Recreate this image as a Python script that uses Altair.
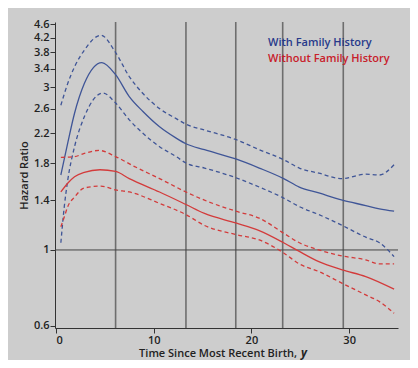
import altair as alt
import pandas as pd

# ---- data ----
bw_x = [0.5, 1.2, 1.9, 2.9, 4.7, 6.1, 7.5, 8.9, 10.6, 12.3, 13.3, 15.2, 18.4, 20.8, 23.3, 24.9, 26.9, 29.3, 31.7, 33.1, 34.6]
bw_hr = [1.66, 2.06, 2.52, 3.08, 3.55, 3.27, 2.82, 2.55, 2.30, 2.13, 2.05, 1.97, 1.85, 1.74, 1.62, 1.53, 1.47, 1.40, 1.35, 1.32, 1.30]

bu_x = [0.5, 1.2, 1.9, 2.9, 4.6, 6.1, 7.5, 8.9, 10.6, 12.3, 13.3, 15.2, 18.4, 20.8, 23.3, 24.9, 26.9, 29.3, 31.7, 33.1, 34.6]
bu_hr = [2.66, 3.08, 3.45, 3.86, 4.27, 3.80, 3.23, 2.88, 2.60, 2.43, 2.34, 2.25, 2.11, 1.97, 1.84, 1.74, 1.68, 1.62, 1.67, 1.66, 1.78]

bl_x = [0.5, 0.85, 1.2, 1.9, 2.9, 4.8, 6.1, 7.5, 8.9, 10.6, 12.3, 13.3, 15.2, 18.4, 20.8, 23.3, 24.9, 26.9, 29.3, 31.7, 33.1, 34.6]
bl_hr = [1.05, 1.34, 1.60, 2.01, 2.46, 2.89, 2.70, 2.41, 2.20, 2.01, 1.88, 1.80, 1.74, 1.63, 1.53, 1.42, 1.34, 1.27, 1.18, 1.09, 1.05, 0.956]

rw_x = [0.5, 1.2, 1.9, 2.9, 4.5, 6.1, 7.5, 10.6, 13.3, 15.2, 18.4, 20.8, 23.3, 24.9, 26.9, 29.3, 31.7, 34.6]
rw_hr = [1.48, 1.57, 1.64, 1.69, 1.72, 1.70, 1.62, 1.48, 1.36, 1.28, 1.20, 1.14, 1.05, 0.99, 0.924, 0.874, 0.835, 0.767]

ru_x = [0.5, 1.9, 2.9, 4.4, 6.1, 8.0, 10.6, 13.3, 15.2, 18.4, 20.8, 23.3, 24.9, 26.9, 29.3, 31.7, 33.1, 34.6]
ru_hr = [1.87, 1.88, 1.92, 1.96, 1.88, 1.76, 1.62, 1.48, 1.40, 1.30, 1.24, 1.12, 1.05, 1.00, 0.96, 0.935, 0.91, 0.91]

rl_x = [0.5, 0.85, 1.2, 1.9, 2.9, 4.6, 6.1, 7.5, 10.6, 13.3, 15.2, 18.4, 20.8, 23.3, 24.9, 26.9, 29.3, 31.7, 33.1, 34.6]
rl_hr = [1.17, 1.25, 1.34, 1.43, 1.52, 1.54, 1.50, 1.48, 1.37, 1.27, 1.18, 1.11, 1.07, 0.98, 0.91, 0.864, 0.798, 0.738, 0.705, 0.652]

knots = [6.1, 13.3, 18.4, 23.2, 29.4]
ref_line = [1.0]
y_ticks = [0.6, 1, 1.4, 1.8, 2.2, 2.6, 3, 3.4, 3.8, 4.2, 4.6]
x_ticks = [0, 10, 20, 30]
legend_labels = ["With Family History", "Without Family History"]
x_title = "Time Since Most Recent Birth,"
x_title_var = "y"
y_title = "Hazard Ratio"

BLUE = "#3f5597"
RED = "#d33b3b"
FONT = "Open Sans"


def frame(xs, ys, key):
    return pd.DataFrame({"t": xs, "hr": ys, "key": key})


df = pd.concat([
    frame(bw_x, bw_hr, "bw"), frame(bu_x, bu_hr, "bu"), frame(bl_x, bl_hr, "bl"),
    frame(rw_x, rw_hr, "rw"), frame(ru_x, ru_hr, "ru"), frame(rl_x, rl_hr, "rl"),
])

xs = alt.Scale(domain=[-0.1, 35], nice=False, zero=False)
ys = alt.Scale(type="log", domain=[0.59, 4.67], nice=False)

xaxis = alt.Axis(values=x_ticks, title=None, grid=False, format="d")
yaxis = alt.Axis(values=y_ticks, title=y_title, grid=False, format="~g")
xenc = alt.X("t:Q", scale=xs, axis=xaxis)
yenc = alt.Y("hr:Q", scale=ys, axis=yaxis)

vrules = alt.Chart(pd.DataFrame({"t": knots})).mark_rule(color="#6e6e6e", strokeWidth=1.6).encode(x=xenc)
hrule = alt.Chart(pd.DataFrame({"hr": ref_line})).mark_rule(color="#444444", strokeWidth=1).encode(y=yenc)


def curve(key, color, dashed):
    kw = dict(color=color, strokeWidth=1.3, interpolate="monotone", clip=True)
    if dashed:
        kw["strokeDash"] = [4, 3]
    return alt.Chart(df[df.key == key]).mark_line(**kw).encode(x=xenc, y=yenc, order="t:Q")


lines = [
    curve("bu", BLUE, True), curve("bw", BLUE, False), curve("bl", BLUE, True),
    curve("ru", RED, True), curve("rw", RED, False), curve("rl", RED, True),
]

txt = dict(baseline="middle", fontSize=11, font=FONT, fontWeight=600)
leg1 = alt.Chart(pd.DataFrame({"label": [legend_labels[0]]})).mark_text(align="left", color="#27398a", **txt).encode(
    x=alt.value(213), y=alt.value(21), text="label:N")
leg2 = alt.Chart(pd.DataFrame({"label": [legend_labels[1]]})).mark_text(align="left", color="#c8202a", **txt).encode(
    x=alt.value(213), y=alt.value(37), text="label:N")

xt1 = alt.Chart(pd.DataFrame({"label": [x_title]})).mark_text(align="right", color="#222222", **txt).encode(
    x=alt.value(242), y=alt.value(332), text="label:N")
xt2 = alt.Chart(pd.DataFrame({"label": [x_title_var]})).mark_text(align="left", color="#222222", fontStyle="italic",
                                                                  fontSize=11.5, font=FONT, fontWeight=700,
                                                                  baseline="middle").encode(
    x=alt.value(246), y=alt.value(332), text="label:N")

chart = alt.layer(vrules, hrule, *lines, leg1, leg2, xt1, xt2).properties(
    width=343, height=306,
    autosize=alt.AutoSizeParams(type="none"),
    padding={"left": 47, "top": 14, "right": 12, "bottom": 32},
    background="#cdcdcd",
).configure_view(stroke=None).configure_axis(
    domainColor="#333333", tickColor="#333333", labelColor="#222222", titleColor="#222222",
    labelFont=FONT, titleFont=FONT, labelFontSize=11, titleFontSize=11,
    labelFontWeight=600, titleFontWeight=600, tickSize=5, labelPadding=1,
)

chart.save("out.html", embed_options={"renderer": "svg", "actions": False})
